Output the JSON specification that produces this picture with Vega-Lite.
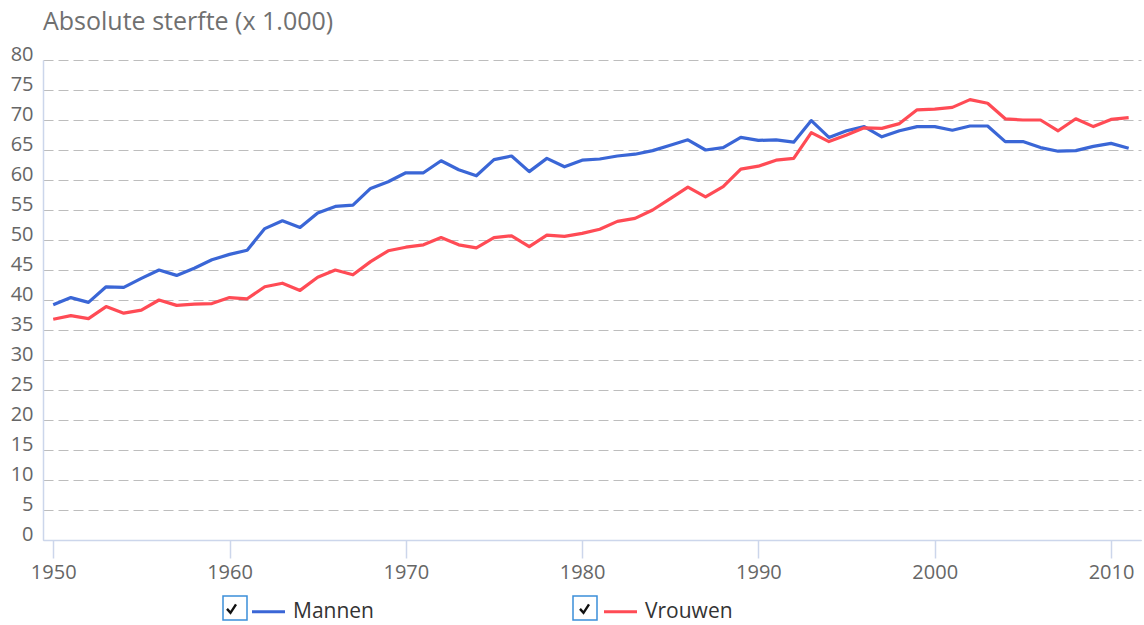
{
  "$schema": "https://vega.github.io/schema/vega-lite/v6.json",
  "width": 1098,
  "height": 480,
  "autosize": "none",
  "padding": {"left": 43, "top": 60, "right": 3, "bottom": 85},
  "background": "white",
  "title": {"text": "Absolute sterfte (x 1.000)", "anchor": "start", "frame": "group", "font": "Open Sans", "fontSize": 25, "fontWeight": "normal", "color": "#707070", "offset": 9},
  "layer": [
    {
      "data": {"values": [
        {"jaar": 1950, "Mannen": 39.2, "Vrouwen": 36.8},
        {"jaar": 1951, "Mannen": 40.4, "Vrouwen": 37.4},
        {"jaar": 1952, "Mannen": 39.6, "Vrouwen": 36.9},
        {"jaar": 1953, "Mannen": 42.2, "Vrouwen": 38.9},
        {"jaar": 1954, "Mannen": 42.1, "Vrouwen": 37.8},
        {"jaar": 1955, "Mannen": 43.6, "Vrouwen": 38.3},
        {"jaar": 1956, "Mannen": 45.0, "Vrouwen": 40.0},
        {"jaar": 1957, "Mannen": 44.1, "Vrouwen": 39.1},
        {"jaar": 1958, "Mannen": 45.3, "Vrouwen": 39.3},
        {"jaar": 1959, "Mannen": 46.7, "Vrouwen": 39.4},
        {"jaar": 1960, "Mannen": 47.6, "Vrouwen": 40.4},
        {"jaar": 1961, "Mannen": 48.3, "Vrouwen": 40.2},
        {"jaar": 1962, "Mannen": 51.9, "Vrouwen": 42.2},
        {"jaar": 1963, "Mannen": 53.2, "Vrouwen": 42.8},
        {"jaar": 1964, "Mannen": 52.1, "Vrouwen": 41.6},
        {"jaar": 1965, "Mannen": 54.5, "Vrouwen": 43.8},
        {"jaar": 1966, "Mannen": 55.6, "Vrouwen": 45.0},
        {"jaar": 1967, "Mannen": 55.8, "Vrouwen": 44.2},
        {"jaar": 1968, "Mannen": 58.6, "Vrouwen": 46.4},
        {"jaar": 1969, "Mannen": 59.7, "Vrouwen": 48.2},
        {"jaar": 1970, "Mannen": 61.2, "Vrouwen": 48.8},
        {"jaar": 1971, "Mannen": 61.2, "Vrouwen": 49.2},
        {"jaar": 1972, "Mannen": 63.2, "Vrouwen": 50.4},
        {"jaar": 1973, "Mannen": 61.7, "Vrouwen": 49.2},
        {"jaar": 1974, "Mannen": 60.7, "Vrouwen": 48.7},
        {"jaar": 1975, "Mannen": 63.4, "Vrouwen": 50.4},
        {"jaar": 1976, "Mannen": 64.0, "Vrouwen": 50.7},
        {"jaar": 1977, "Mannen": 61.4, "Vrouwen": 48.9},
        {"jaar": 1978, "Mannen": 63.6, "Vrouwen": 50.8},
        {"jaar": 1979, "Mannen": 62.2, "Vrouwen": 50.6},
        {"jaar": 1980, "Mannen": 63.3, "Vrouwen": 51.1},
        {"jaar": 1981, "Mannen": 63.5, "Vrouwen": 51.8},
        {"jaar": 1982, "Mannen": 64.0, "Vrouwen": 53.1},
        {"jaar": 1983, "Mannen": 64.3, "Vrouwen": 53.6},
        {"jaar": 1984, "Mannen": 64.9, "Vrouwen": 55.0},
        {"jaar": 1985, "Mannen": 65.8, "Vrouwen": 56.9},
        {"jaar": 1986, "Mannen": 66.7, "Vrouwen": 58.8},
        {"jaar": 1987, "Mannen": 65.0, "Vrouwen": 57.2},
        {"jaar": 1988, "Mannen": 65.4, "Vrouwen": 58.9},
        {"jaar": 1989, "Mannen": 67.1, "Vrouwen": 61.8},
        {"jaar": 1990, "Mannen": 66.6, "Vrouwen": 62.3},
        {"jaar": 1991, "Mannen": 66.7, "Vrouwen": 63.3},
        {"jaar": 1992, "Mannen": 66.3, "Vrouwen": 63.6},
        {"jaar": 1993, "Mannen": 69.9, "Vrouwen": 67.9},
        {"jaar": 1994, "Mannen": 67.1, "Vrouwen": 66.4},
        {"jaar": 1995, "Mannen": 68.2, "Vrouwen": 67.5},
        {"jaar": 1996, "Mannen": 68.9, "Vrouwen": 68.7},
        {"jaar": 1997, "Mannen": 67.2, "Vrouwen": 68.6},
        {"jaar": 1998, "Mannen": 68.2, "Vrouwen": 69.4},
        {"jaar": 1999, "Mannen": 68.9, "Vrouwen": 71.7},
        {"jaar": 2000, "Mannen": 68.9, "Vrouwen": 71.8},
        {"jaar": 2001, "Mannen": 68.3, "Vrouwen": 72.1},
        {"jaar": 2002, "Mannen": 69.0, "Vrouwen": 73.4},
        {"jaar": 2003, "Mannen": 69.0, "Vrouwen": 72.8},
        {"jaar": 2004, "Mannen": 66.4, "Vrouwen": 70.2},
        {"jaar": 2005, "Mannen": 66.4, "Vrouwen": 70.0},
        {"jaar": 2006, "Mannen": 65.4, "Vrouwen": 70.0},
        {"jaar": 2007, "Mannen": 64.8, "Vrouwen": 68.2},
        {"jaar": 2008, "Mannen": 64.9, "Vrouwen": 70.2},
        {"jaar": 2009, "Mannen": 65.6, "Vrouwen": 68.9},
        {"jaar": 2010, "Mannen": 66.1, "Vrouwen": 70.1},
        {"jaar": 2011, "Mannen": 65.3, "Vrouwen": 70.4}
      ]},
      "transform": [{"fold": ["Mannen", "Vrouwen"], "as": ["geslacht", "waarde"]}],
      "mark": {"type": "line", "strokeWidth": 3.2, "strokeJoin": "round"},
      "encoding": {
        "x": {
          "field": "jaar", "type": "quantitative",
          "scale": {"domain": [1949.42, 2011.7], "nice": false, "zero": false},
          "axis": {
            "values": [1950, 1960, 1970, 1980, 1990, 2000, 2010], "format": "d", "title": null,
            "grid": false, "domainColor": "#ccd6eb", "domainWidth": 1.5, "tickColor": "#ccd6eb", "tickWidth": 1.5, "tickSize": 18,
            "labelFont": "Open Sans", "labelFontSize": 20, "labelColor": "#666666", "labelPadding": 4
          }
        },
        "y": {
          "field": "waarde", "type": "quantitative",
          "scale": {"domain": [0, 80], "nice": false},
          "axis": {
            "values": [0, 5, 10, 15, 20, 25, 30, 35, 40, 45, 50, 55, 60, 65, 70, 75, 80], "title": null,
            "grid": true, "gridDash": [10, 5], "gridColor": "#bdbdbd", "gridWidth": 1.2,
            "domainColor": "#ccd6eb", "domainWidth": 1.5, "ticks": false,
            "labelFont": "Open Sans", "labelFontSize": 20, "labelColor": "#666666", "labelPadding": 10, "labelBaseline": "alphabetic"
          }
        },
        "color": {
          "field": "geslacht", "type": "nominal",
          "scale": {"domain": ["Mannen", "Vrouwen"], "range": ["#3a66d6", "#ff4b55"]},
          "legend": {
            "title": null, "orient": "none", "legendX": 207, "legendY": 533, "direction": "horizontal", "columns": 2,
            "columnPadding": 223, "padding": 0, "symbolType": "stroke", "symbolSize": 1089, "symbolStrokeWidth": 3.2,
            "labelFont": "Open Sans", "labelFontSize": 21, "labelColor": "#333333", "labelOffset": 6
          }
        }
      }
    },
    {
      "data": {"values": [{"vak": "Mannen"}, {"vak": "Vrouwen"}]},
      "mark": {"type": "point", "filled": false, "color": "#3b8fd9", "strokeWidth": 1.5, "opacity": 0},
      "encoding": {
        "shape": {
          "field": "vak", "type": "nominal",
          "scale": {"range": ["M-1,-1H1V1H-1Z", "M-1,-1H1V1H-1Z"]},
          "legend": {
            "title": null, "orient": "none", "legendX": 179, "legendY": 535, "direction": "horizontal", "columns": 2,
            "columnPadding": 320, "padding": 0, "symbolSize": 576, "symbolFillColor": "#e9e9e9", "symbolStrokeColor": "#3b8fd9",
            "symbolStrokeWidth": 1.5, "symbolOpacity": 1, "labelExpr": "''", "labelOffset": 0, "labelFontSize": 1
          }
        }
      }
    },
    {
      "data": {"values": [{"vink": "Mannen"}, {"vink": "Vrouwen"}]},
      "mark": {"type": "point", "filled": false, "opacity": 0},
      "encoding": {
        "stroke": {
          "field": "vink", "type": "nominal",
          "scale": {"range": ["#111111", "#111111"]},
          "legend": {
            "title": null, "orient": "none", "legendX": 177, "legendY": 537, "direction": "horizontal", "columns": 2,
            "columnPadding": 330, "padding": 0, "symbolType": "M-0.45,0.0L-0.1,0.4L0.45,-0.45", "symbolSize": 400,
            "symbolStrokeWidth": 2.4, "symbolFillColor": "transparent", "symbolOpacity": 1, "labelExpr": "''", "labelOffset": 0, "labelFontSize": 1
          }
        }
      }
    }
  ],
  "config": {"view": {"stroke": null}}
}
